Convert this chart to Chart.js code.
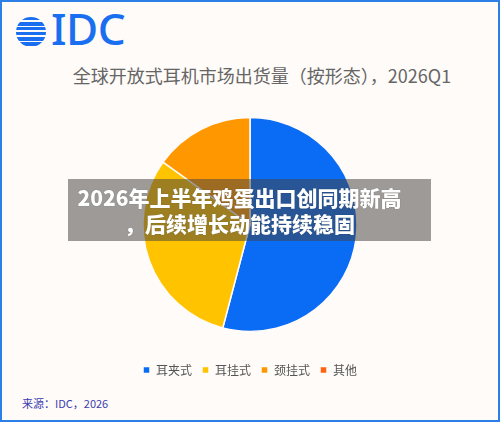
<!DOCTYPE html>
<html>
<head>
<meta charset="utf-8">
<script src="https://cdn.jsdelivr.net/npm/chart.js@4.4.1/dist/chart.umd.min.js"></script>
<style>
  html, body { margin: 0; padding: 0; }
  body {
    width: 500px; height: 422px; position: relative; overflow: hidden;
    background: #fffbf8;
    font-family: "Noto Sans CJK SC", "Noto Sans", sans-serif;
  }
  .frame {
    position: absolute; left: 0; top: 0; width: 496px; height: 418px;
    border: 2px solid #2b7fe6; pointer-events: none; z-index: 5;
  }
  .logo { position: absolute; left: 16px; top: 10px; height: 40px; }
  .globe {
    position: absolute; left: 0; top: 7px; width: 30px; height: 30px; border-radius: 50%;
    background: repeating-linear-gradient(to bottom, #1a6ff0 0px, #1a6ff0 3.5px, transparent 3.5px, transparent 5px);
  }
  .idc {
    position: absolute; left: 35px; top: -4px; font-family: "Noto Sans", sans-serif;
    font-size: 44px; font-weight: 500; color: #1a6ff0; letter-spacing: -0.5px; line-height: 1;
  }
  .title {
    position: absolute; left: 0; top: 63px; width: 524px; text-align: center;
    font-size: 18px; color: #666; line-height: 24px;
  }
  .chartbox { position: absolute; left: 0; top: 95px; width: 500px; height: 299px; }
  .banner {
    position: absolute; left: 68px; top: 179px; width: 363px; height: 62px;
    background: rgba(68, 66, 64, 0.52); z-index: 4;
    color: #fff; font-weight: 900; font-size: 21px; line-height: 26px;
    text-align: center; padding-top: 5px; box-sizing: border-box;
    text-shadow: 0 0 1px rgba(0,0,0,0.4);
  }
  .banner div { margin-left: -20px; white-space: nowrap; }
  .source {
    position: absolute; left: 22px; top: 395px; font-size: 11px; color: #3b3bb0;
  }
</style>
</head>
<body>
<div class="frame"></div>
<div class="logo"><div class="globe"></div><div class="idc">IDC</div></div>
<div class="title">全球开放式耳机市场出货量（按形态），2026Q1</div>
<div class="chartbox"><canvas id="pie_chart"></canvas></div>
<div class="banner"><div>2026年上半年鸡蛋出口创同期新高</div><div>，后续增长动能持续稳固</div></div>
<div class="source">来源：IDC，2026</div>
<script>
'use strict'

const categories = ['耳夹式', '耳挂式', '颈挂式', '其他'];
const shares = [54.1, 30.8, 15.1, 0];
const colors = ['#0a6cf5', '#ffc300', '#ff9800', '#ff6210'];

window.onload = () => {
    const ctx = document.getElementById('pie_chart').getContext('2d');
    const chart = new Chart(ctx, {
        type: 'pie',
        data: {
            labels: categories,
            datasets: [{
                data: shares,
                backgroundColor: colors,
                borderColor: '#fffbf8',
                borderWidth: 1.5,
                radius: 107,
            }]
        },
        options: {
            responsive: true,
            maintainAspectRatio: false,
            animation: false,
            layout: { padding: { top: 0, bottom: 8 } },
            plugins: {
                tooltip: { enabled: false },
                legend: {
                    position: 'bottom',
                    labels: {
                        boxWidth: 7,
                        boxHeight: 7,
                        padding: 10,
                        color: '#555',
                        font: { size: 12, family: '"Noto Sans CJK SC", sans-serif' },
                    }
                }
            }
        }
    });
}
</script>
</body>
</html>
